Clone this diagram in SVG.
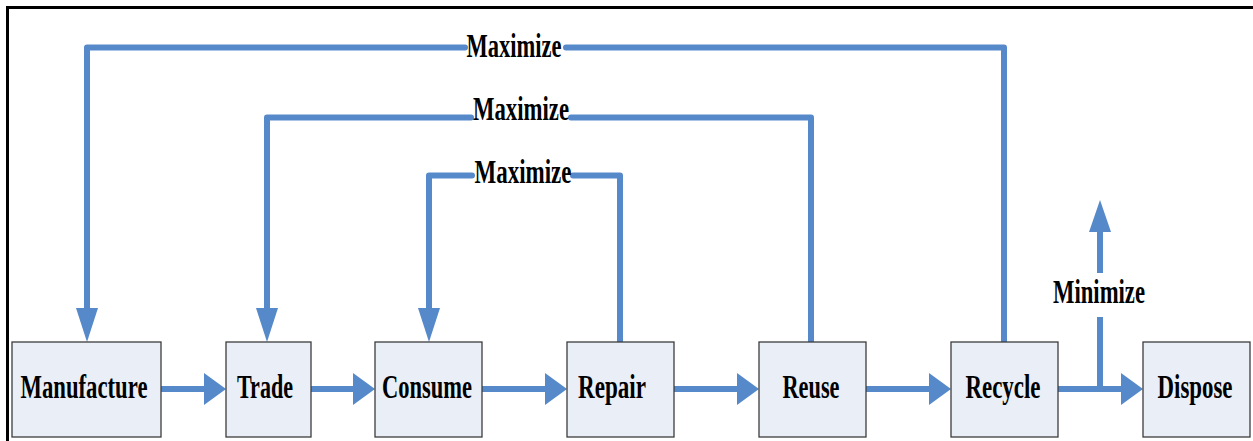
<svg xmlns="http://www.w3.org/2000/svg" width="1253" height="441" viewBox="0 0 1253 441">
<style>
.box{fill:#E9EEF7;stroke:#3C3C3C;stroke-width:1.3}
.lbl{font-family:"Liberation Serif","Times New Roman",serif;font-weight:bold;font-size:34px;fill:#000;text-anchor:middle}
.ln{fill:none;stroke:#5589CA;stroke-width:6;stroke-linecap:round;stroke-linejoin:round}
.hd{fill:#5589CA}
</style>
<rect x="0" y="0" width="1253" height="441" fill="#fff"/>
<path d="M7.5 441 V7.5 H1253" fill="none" stroke="#000" stroke-width="3"/>
<g id="connectors">
<path class="ln" d="M87 308 V47.5 H465 M566 47.5 H1004 V342"/>
<polygon class="hd" points="76,308 98,308 87,342"/>
<path class="ln" d="M267 308 V117.5 H471 M571 117.5 H811 V342"/>
<polygon class="hd" points="256,308 278,308 267,342"/>
<path class="ln" d="M429 308 V175.5 H472 M573 175.5 H620 V342"/>
<polygon class="hd" points="418,308 440,308 429,342"/>
<path class="ln" d="M162 389 H204"/><polygon class="hd" points="204,373 204,405 226,389"/>
<path class="ln" d="M311 389 H353"/><polygon class="hd" points="353,373 353,405 375,389"/>
<path class="ln" d="M482 389 H545"/><polygon class="hd" points="545,373 545,405 567,389"/>
<path class="ln" d="M674 389 H737"/><polygon class="hd" points="737,373 737,405 759,389"/>
<path class="ln" d="M866 389 H929"/><polygon class="hd" points="929,373 929,405 951,389"/>
<path class="ln" d="M1058 389 H1121"/><polygon class="hd" points="1121,373 1121,405 1143,389"/>
<path class="ln" d="M1100 389 V317 M1100 273 V232" style="stroke-linecap:butt"/>
<polygon class="hd" points="1089,232 1111,232 1100,200"/>
<text class="lbl" x="514" y="57" textLength="95" lengthAdjust="spacingAndGlyphs">Maximize</text>
<text class="lbl" x="521" y="120" textLength="96" lengthAdjust="spacingAndGlyphs">Maximize</text>
<text class="lbl" x="523" y="183" textLength="97" lengthAdjust="spacingAndGlyphs">Maximize</text>
<text class="lbl" x="1099" y="303" textLength="92" lengthAdjust="spacingAndGlyphs">Minimize</text>
</g>
<g id="manufacture"><rect class="box" x="12" y="342" width="149" height="95"/><text class="lbl" x="84" y="398" textLength="127" lengthAdjust="spacingAndGlyphs">Manufacture</text></g>
<g id="trade"><rect class="box" x="226" y="342" width="85" height="95"/><text class="lbl" x="265" y="398" textLength="56" lengthAdjust="spacingAndGlyphs">Trade</text></g>
<g id="consume"><rect class="box" x="375" y="342" width="107" height="95"/><text class="lbl" x="427" y="398" textLength="90" lengthAdjust="spacingAndGlyphs">Consume</text></g>
<g id="repair"><rect class="box" x="567" y="342" width="107" height="95"/><text class="lbl" x="612" y="398" textLength="68" lengthAdjust="spacingAndGlyphs">Repair</text></g>
<g id="reuse"><rect class="box" x="759" y="342" width="107" height="95"/><text class="lbl" x="811" y="398" textLength="57" lengthAdjust="spacingAndGlyphs">Reuse</text></g>
<g id="recycle"><rect class="box" x="951" y="342" width="107" height="95"/><text class="lbl" x="1003" y="398" textLength="75" lengthAdjust="spacingAndGlyphs">Recycle</text></g>
<g id="dispose"><rect class="box" x="1143" y="342" width="107" height="95"/><text class="lbl" x="1195" y="398" textLength="75" lengthAdjust="spacingAndGlyphs">Dispose</text></g>
</svg>
